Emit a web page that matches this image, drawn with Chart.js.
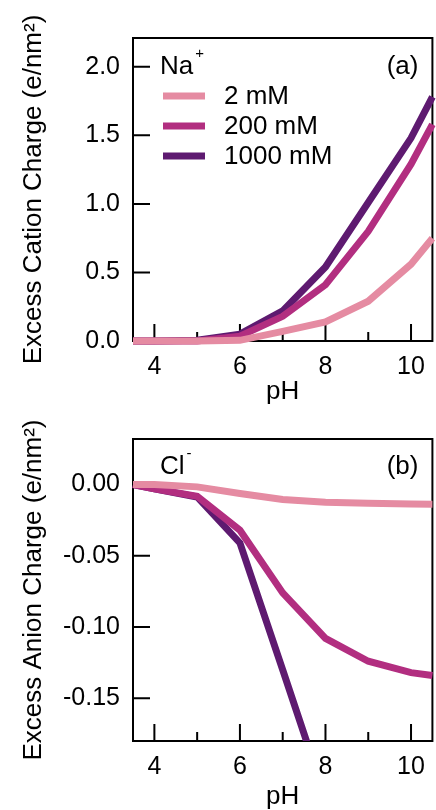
<!DOCTYPE html>
<html>
<head>
<meta charset="utf-8">
<script src="https://cdn.jsdelivr.net/npm/chart.js@4"></script>
<style>
  body { margin: 0; background: #fff; }
  .panel { position: absolute; left: 0; width: 436px; height: 405px; }
</style>
</head>
<body>
<div class="panel" style="top:0"><canvas id="chartA" width="436" height="405"></canvas></div>
<div class="panel" style="top:405px"><canvas id="chartB" width="436" height="405"></canvas></div>
<script>
var pH = [3.5, 4, 5, 6, 7, 8, 9, 10, 10.5];
var seriesNames = ["2 mM", "200 mM", "1000 mM"];
var seriesColors = ["#E58BA2", "#B22E80", "#5E1A70"];

// excess cation charge (e/nm2)
var cation2 = [0, 0, 0, 0.005, 0.07, 0.14, 0.29, 0.56, 0.75];
var cation200 = [0, 0, 0, 0.035, 0.18, 0.41, 0.80, 1.29, 1.58];
var cation1000 = [0, 0, 0.005, 0.05, 0.22, 0.54, 1.01, 1.48, 1.78];

// excess anion charge (e/nm2)
var anion2 = [0, 0, -0.0016, -0.0063, -0.0105, -0.0124, -0.0131, -0.0137, -0.0138];
var anion200 = [0, -0.003, -0.0082, -0.032, -0.076, -0.108, -0.124, -0.132, -0.134];
var anion1000 = [0, -0.003, -0.0087, -0.041, -0.13, -0.22, -0.31, -0.40, -0.44];

var xTicks = [4, 6, 8, 10];
var xMinorTicks = [5, 7, 9];
var yTicksA = [0, 0.5, 1.0, 1.5, 2.0];
var yTicksB = [0, -0.05, -0.10, -0.15];

var FONT = "'Liberation Sans', Arial, sans-serif";

function toPoints(ys) {
    return pH.map(function (x, i) { return { x: x, y: ys[i] }; });
}

// frame + inward ticks
var framePlugin = {
    id: 'frame',
    beforeDatasetsDraw: function (chart) {
        var ctx = chart.ctx, a = chart.chartArea;
        var xs = chart.scales.x, ys = chart.scales.y;
        var yt = chart.options.plugins.frame.yTicks;
        ctx.save();
        ctx.strokeStyle = '#000';
        ctx.lineWidth = 2;
        ctx.strokeRect(a.left, a.top, a.right - a.left, a.bottom - a.top);
        ctx.beginPath();
        yt.forEach(function (v) {
            var py = ys.getPixelForValue(v);
            ctx.moveTo(a.left, py);
            ctx.lineTo(a.left + 17, py);
        });
        xTicks.forEach(function (v) {
            var px = xs.getPixelForValue(v);
            ctx.moveTo(px, a.bottom);
            ctx.lineTo(px, a.bottom - 17);
        });
        xMinorTicks.forEach(function (v) {
            var px = xs.getPixelForValue(v);
            ctx.moveTo(px, a.bottom);
            ctx.lineTo(px, a.bottom - 9);
        });
        ctx.stroke();
        ctx.restore();
    }
};

// ion label, panel tag and legend
var notePlugin = {
    id: 'note',
    afterDraw: function (chart) {
        var o = chart.options.plugins.note;
        var ctx = chart.ctx, a = chart.chartArea;
        ctx.save();
        ctx.fillStyle = '#000';
        ctx.textBaseline = 'alphabetic';
        ctx.font = '26px ' + FONT;
        ctx.textAlign = 'left';
        var ionX = a.left + 27, ionY = a.top + o.dy;
        ctx.fillText(o.ion, ionX, ionY);
        var w = ctx.measureText(o.ion).width;
        ctx.font = '15px ' + FONT;
        ctx.fillText(o.sign, ionX + w + 2, ionY - 16);
        ctx.font = '26px ' + FONT;
        ctx.textAlign = 'right';
        ctx.fillText(o.tag, a.right - 14, ionY);
        if (o.legend) {
            ctx.textAlign = 'left';
            ctx.textBaseline = 'middle';
            chart.data.datasets.forEach(function (ds, i) {
                var y = a.top + 58 + i * 30;
                ctx.strokeStyle = ds.borderColor;
                ctx.lineWidth = 7;
                ctx.beginPath();
                ctx.moveTo(a.left + 30, y);
                ctx.lineTo(a.left + 72, y);
                ctx.stroke();
                ctx.fillText(ds.label, a.left + 91, y + 1);
            });
        }
        ctx.restore();
    }
};

function makeChart(id, data, yMin, yMax, yTicks, yTitle, padTop, xHeight, clip, opts) {
    return new Chart(document.getElementById(id), {
        type: 'line',
        data: {
            datasets: data.map(function (ys, i) {
                return {
                    label: seriesNames[i],
                    data: toPoints(ys),
                    borderColor: seriesColors[i],
                    backgroundColor: seriesColors[i],
                    borderWidth: 7,
                    pointRadius: 0,
                    tension: 0,
                    clip: clip
                };
            })
        },
        options: {
            responsive: false,
            animation: false,
            layout: { padding: { top: padTop, right: 1, left: 0, bottom: 0 } },
            plugins: {
                legend: { display: false },
                tooltip: { enabled: false },
                frame: { yTicks: yTicks },
                note: opts
            },
            scales: {
                x: {
                    type: 'linear',
                    min: 3.5,
                    max: 10.5,
                    afterBuildTicks: function (s) { s.ticks = xTicks.map(function (v) { return { value: v }; }); },
                    afterFit: function (s) { s.height = xHeight; },
                    grid: { display: false, drawTicks: false },
                    border: { display: false },
                    ticks: { padding: 11, color: '#000', font: { family: FONT, size: 25 }, maxRotation: 0 },
                    title: { display: true, text: 'pH', color: '#000', font: { family: FONT, size: 26, lineHeight: 1 }, padding: { top: 0, bottom: 0 } }
                },
                y: {
                    min: yMin,
                    max: yMax,
                    afterBuildTicks: function (s) { s.ticks = yTicks.map(function (v) { return { value: v }; }); },
                    afterFit: function (s) { s.width = 133; },
                    grid: { display: false, drawTicks: false },
                    border: { display: false },
                    ticks: {
                        padding: 13, color: '#000', font: { family: FONT, size: 25 },
                        callback: function (v) { return opts.digits === 2 ? v.toFixed(2) : v.toFixed(1); }
                    },
                    title: { display: true, text: yTitle, color: '#000', font: { family: FONT, size: 26, lineHeight: 1 }, padding: { top: 21, bottom: 0 } }
                }
            }
        },
        plugins: [framePlugin, notePlugin]
    });
}

makeChart('chartA', [cation2, cation200, cation1000], 0, 2.21, yTicksA,
    'Excess Cation Charge (e/nm\u00B2)', 38, 64, false,
    { ion: 'Na', sign: '+', tag: '(a)', legend: true, digits: 1, dy: 36 });

makeChart('chartB', [anion2, anion200, anion1000], -0.18, 0.032, yTicksB,
    'Excess Anion Charge (e/nm\u00B2)', 34, 69, { left: 4, top: 4, right: 4, bottom: 0 },
    { ion: 'Cl', sign: '-', tag: '(b)', legend: false, digits: 2, dy: 35 });
</script>
</body>
</html>
